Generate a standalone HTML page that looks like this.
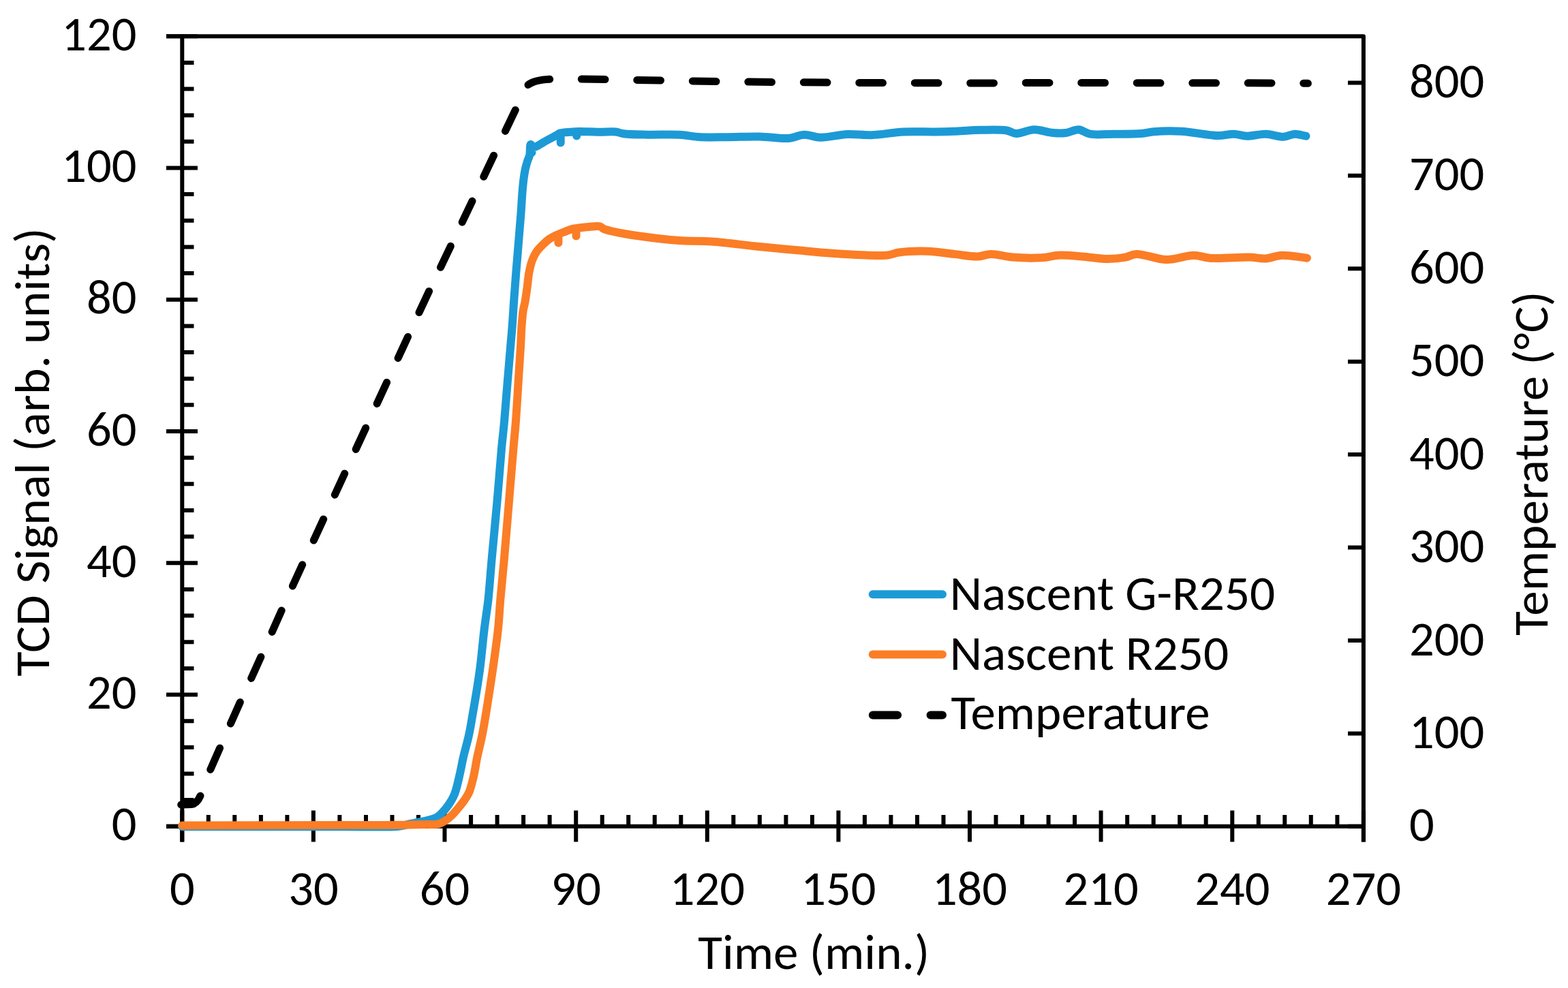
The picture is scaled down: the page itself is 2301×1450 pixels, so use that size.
<!DOCTYPE html>
<html><head><meta charset="utf-8"><title>TCD Signal vs Time</title>
<style>html,body{margin:0;padding:0;background:#fff;width:2301px;height:1450px;overflow:hidden}svg{display:block}</style>
</head><body>
<svg width="2301" height="1450" viewBox="0 0 2301 1450">
<rect width="2301" height="1450" fill="#fff"/>
<g stroke="#000" stroke-width="6" fill="none" stroke-linecap="butt">
<path d="M244,53.2H2000.9V1235.5" stroke-linejoin="round"/>
<path d="M267.3,50.2V1235.5"/>
<path d="M244,1212.8H2000.9"/>
<path d="M244,1212.8H290M244,1019.5H290M244,826.3H290M244,633H290M244,439.7H290M244,246.5H290M244,53.2H290M267.3,1174.1H284.5M267.3,1135.5H284.5M267.3,1096.8H284.5M267.3,1058.2H284.5M267.3,980.9H284.5M267.3,942.2H284.5M267.3,903.6H284.5M267.3,864.9H284.5M267.3,787.6H284.5M267.3,749H284.5M267.3,710.3H284.5M267.3,671.7H284.5M267.3,594.3H284.5M267.3,555.7H284.5M267.3,517H284.5M267.3,478.4H284.5M267.3,401.1H284.5M267.3,362.4H284.5M267.3,323.8H284.5M267.3,285.1H284.5M267.3,207.8H284.5M267.3,169.2H284.5M267.3,130.5H284.5M267.3,91.9H284.5M267.3,1189.5V1235.5M459.9,1189.5V1235.5M652.5,1189.5V1235.5M845.2,1189.5V1235.5M1037.8,1189.5V1235.5M1230.4,1189.5V1235.5M1423,1189.5V1235.5M1615.6,1189.5V1235.5M1808.3,1189.5V1235.5M2000.9,1189.5V1235.5M305.8,1196V1212.8M344.3,1196V1212.8M382.9,1196V1212.8M421.4,1196V1212.8M498.4,1196V1212.8M537,1196V1212.8M575.5,1196V1212.8M614,1196V1212.8M691.1,1196V1212.8M729.6,1196V1212.8M768.1,1196V1212.8M806.6,1196V1212.8M883.7,1196V1212.8M922.2,1196V1212.8M960.7,1196V1212.8M999.3,1196V1212.8M1076.3,1196V1212.8M1114.8,1196V1212.8M1153.4,1196V1212.8M1191.9,1196V1212.8M1268.9,1196V1212.8M1307.4,1196V1212.8M1346,1196V1212.8M1384.5,1196V1212.8M1461.5,1196V1212.8M1500.1,1196V1212.8M1538.6,1196V1212.8M1577.1,1196V1212.8M1654.2,1196V1212.8M1692.7,1196V1212.8M1731.2,1196V1212.8M1769.7,1196V1212.8M1846.8,1196V1212.8M1885.3,1196V1212.8M1923.8,1196V1212.8M1962.4,1196V1212.8M1978,1212.8H2000.9M1978,1076.4H2000.9M1978,940H2000.9M1978,803.5H2000.9M1978,667.1H2000.9M1978,530.7H2000.9M1978,394.3H2000.9M1978,257.8H2000.9M1978,121.4H2000.9"/>
</g>
<g font-family="Carlito, &quot;Liberation Sans&quot;, sans-serif" font-size="72.5" fill="#000">
<text x="200.5" y="1233.4" text-anchor="end" textLength="36.75" lengthAdjust="spacingAndGlyphs">0</text>
<text x="200.5" y="1040.1" text-anchor="end" textLength="73.5" lengthAdjust="spacingAndGlyphs">20</text>
<text x="200.5" y="846.9" text-anchor="end" textLength="73.5" lengthAdjust="spacingAndGlyphs">40</text>
<text x="200.5" y="653.6" text-anchor="end" textLength="73.5" lengthAdjust="spacingAndGlyphs">60</text>
<text x="200.5" y="460.3" text-anchor="end" textLength="73.5" lengthAdjust="spacingAndGlyphs">80</text>
<text x="200.5" y="267.1" text-anchor="end" textLength="110.25" lengthAdjust="spacingAndGlyphs">100</text>
<text x="200.5" y="73.8" text-anchor="end" textLength="110.25" lengthAdjust="spacingAndGlyphs">120</text>
<text x="267.3" y="1327.8" text-anchor="middle" textLength="36.75" lengthAdjust="spacingAndGlyphs">0</text>
<text x="459.9" y="1327.8" text-anchor="middle" textLength="73.5" lengthAdjust="spacingAndGlyphs">30</text>
<text x="652.5" y="1327.8" text-anchor="middle" textLength="73.5" lengthAdjust="spacingAndGlyphs">60</text>
<text x="845.2" y="1327.8" text-anchor="middle" textLength="73.5" lengthAdjust="spacingAndGlyphs">90</text>
<text x="1037.8" y="1327.8" text-anchor="middle" textLength="110.25" lengthAdjust="spacingAndGlyphs">120</text>
<text x="1230.4" y="1327.8" text-anchor="middle" textLength="110.25" lengthAdjust="spacingAndGlyphs">150</text>
<text x="1423" y="1327.8" text-anchor="middle" textLength="110.25" lengthAdjust="spacingAndGlyphs">180</text>
<text x="1615.6" y="1327.8" text-anchor="middle" textLength="110.25" lengthAdjust="spacingAndGlyphs">210</text>
<text x="1808.3" y="1327.8" text-anchor="middle" textLength="110.25" lengthAdjust="spacingAndGlyphs">240</text>
<text x="2000.9" y="1327.8" text-anchor="middle" textLength="110.25" lengthAdjust="spacingAndGlyphs">270</text>
<text x="2068" y="1234.3" textLength="36.75" lengthAdjust="spacingAndGlyphs">0</text>
<text x="2068" y="1097.9" textLength="110.25" lengthAdjust="spacingAndGlyphs">100</text>
<text x="2068" y="961.5" textLength="110.25" lengthAdjust="spacingAndGlyphs">200</text>
<text x="2068" y="825" textLength="110.25" lengthAdjust="spacingAndGlyphs">300</text>
<text x="2068" y="688.6" textLength="110.25" lengthAdjust="spacingAndGlyphs">400</text>
<text x="2068" y="552.2" textLength="110.25" lengthAdjust="spacingAndGlyphs">500</text>
<text x="2068" y="415.8" textLength="110.25" lengthAdjust="spacingAndGlyphs">600</text>
<text x="2068" y="279.3" textLength="110.25" lengthAdjust="spacingAndGlyphs">700</text>
<text x="2068" y="142.9" textLength="110.25" lengthAdjust="spacingAndGlyphs">800</text>
<text x="1024.3" y="1422.1" textLength="339.8" lengthAdjust="spacingAndGlyphs">Time (min.)</text>
<text transform="translate(72.4,992.6) rotate(-90)" textLength="658.2" lengthAdjust="spacingAndGlyphs">TCD Signal (arb. units)</text>
<text transform="translate(2270.6,932.8) rotate(-90)" textLength="505.5" lengthAdjust="spacingAndGlyphs">Temperature (°C)</text>
<text x="1393.7" y="894.5" textLength="477.6" lengthAdjust="spacingAndGlyphs">Nascent G-R250</text>
<text x="1393.7" y="982.7" textLength="409.6" lengthAdjust="spacingAndGlyphs">Nascent R250</text>
<text x="1395.4" y="1070.3" textLength="380.2" lengthAdjust="spacingAndGlyphs">Temperature</text>
</g>
<g fill="none" stroke-width="12" stroke-linecap="round">
<path stroke="#1c9ad6" d="M1280.8,872.3H1383"/>
<path stroke="#fb7d26" d="M1280.8,960.5H1383"/>
<path stroke="#000" d="M1280.8,1049.5H1317.1M1365.6,1049.5H1383"/>
</g>
<g fill="none" stroke-width="12" stroke-linecap="round" stroke-linejoin="round">
<path stroke="#1c9ad6" d="M267.3,1213.2C344.9,1213.2 442,1213.3 500,1213.2C534.6,1213.2 569.3,1214.1 583,1213C587.5,1212.6 589.1,1212.1 592,1211.5C594.8,1210.9 597.1,1210.1 600,1209.4C603.6,1208.6 607.6,1207.9 612,1207C617.4,1205.9 624.8,1204.6 630,1203.2C634.2,1202.1 637.9,1201.3 641,1199.5C643.9,1197.9 645.8,1195.8 648.3,1193.3C651.4,1190.2 654.9,1186.1 657.9,1181.8C661.2,1177 664.4,1172 667,1165.5C670.4,1157.1 672.8,1144.4 675,1135C676.9,1126.9 677.8,1120.6 679.7,1112.3C682,1102.3 685.6,1090.3 688,1079.3C690.4,1068.3 692.1,1057.2 694,1046.2C695.9,1035.2 697.8,1024.1 699.6,1013.1C701.3,1002.1 702.9,992.4 704.5,980C706.6,964 708.4,942.4 710.5,925C712.4,909.2 714.7,896.1 716.5,880C718.5,861.5 719.7,841.8 721.7,820C724,793.9 727.3,761.6 729.7,733.9C732,708.2 734,680.3 735.9,659.4C737.3,644.2 738.6,634.5 739.9,620C741.5,602.1 743.2,579.1 744.8,560C746.2,542.7 747.7,525.2 749,510.3C750,498.1 751,488.2 751.8,477.2C752.6,466.1 753.2,455.8 754,444C755,430.4 756,417.1 757.3,400C759.2,376.1 762.8,335.3 764.4,314C765.3,301.4 765.7,292.9 766.4,283.8C767,276.2 767.6,269.5 768.4,263.1C769.1,257.5 770,252.3 771,247.6C771.9,243.5 773,239.7 774.1,236.2C775.1,233.2 776.4,231.2 777.2,227.9C778.2,223.5 777.3,212.5 778.8,212C779.7,211.7 780.6,215.7 782.5,216C786.3,216.7 796,209.4 802.1,206.2C807.6,203.4 814.2,199.9 817.6,197.9C819.4,196.9 819.6,196.2 821.5,195.5C825.7,194.1 836.2,193.7 843.4,193.3C850.4,192.9 857.7,193.2 864.1,193.3C869.7,193.4 874.2,193.7 880,193.8C887.1,193.9 897.1,192.8 903.5,193.5C908.1,194 910.2,195.6 915.2,196.3C923.7,197.5 937.8,197.5 950.4,197.7C964.9,198 983.7,196.9 997.3,197.7C1007.9,198.3 1015.1,200.4 1025.5,201C1038.1,201.8 1053.3,201.3 1067.7,201.2C1082.9,201.1 1099.5,200.2 1114.7,200.5C1129.2,200.8 1144.9,203.9 1156.9,202.9C1165.9,202.2 1172.5,197.9 1180.4,197.7C1188.2,197.5 1195,201.5 1203.9,201.7C1215.4,202 1230.9,197.5 1243.8,197C1255.9,196.5 1266.4,198.6 1279,198.2C1293.5,197.7 1310.2,194.3 1325.9,193.5C1341.5,192.7 1359.3,193.7 1372.8,193.5C1383.1,193.3 1390.1,193.1 1400,192.7C1412,192.2 1426.8,191 1439.9,190.8C1452.6,190.6 1468,189.9 1477.4,191.5C1483.3,192.5 1486.1,195.8 1491.5,196C1498.8,196.3 1508.5,190.5 1517.3,190.3C1526.5,190.1 1537,194.3 1545.5,195C1552.4,195.6 1558.1,195.8 1564.3,195C1570.6,194.2 1577,189.9 1583,190.3C1588.7,190.7 1592.8,195.5 1599.5,196.7C1608.9,198.5 1622.6,196.8 1634.7,196.7C1647.6,196.6 1663.8,196.9 1674.6,196C1682.1,195.4 1685.9,193.8 1693.4,193.2C1704.2,192.3 1719,192 1733.3,192.7C1749.9,193.6 1772.9,198.9 1787.2,199C1796.6,199.1 1803.3,196.5 1810.7,196.7C1817.3,196.9 1822.6,199.5 1829.5,199.7C1837.9,199.9 1848.4,196.5 1857.6,196.7C1866.4,196.9 1875.9,201 1883.5,200.7C1889.6,200.4 1894.4,196.9 1899.9,196.7C1905.4,196.5 1911,198.7 1916.5,199.7M780,214L780.5,224M822.7,197L822.7,209.5M846.2,194.5L846.2,199.5"/>
<path stroke="#fb7d26" d="M267.3,1211.5C364.9,1211.3 507.3,1211.3 560,1211C579.5,1210.9 588.3,1210.8 600,1210.6C609,1210.4 616.5,1210.1 624.1,1209.9C630.9,1209.7 638.3,1210.6 643.5,1209.3C647.4,1208.3 650,1206.5 653.1,1204.5C656.4,1202.4 659.7,1199.7 662.8,1196.8C666.2,1193.6 669.3,1189.8 672.4,1186C675.7,1182 679.3,1177.6 682.1,1173.5C684.6,1169.8 686.6,1166.9 688.5,1162.5C691,1156.6 692.9,1148.3 694.8,1140.5C696.9,1131.7 698.1,1122.1 700.1,1112.3C702.3,1101.7 705.3,1090.3 707.5,1079.3C709.7,1068.3 711.5,1057.2 713.3,1046.2C715.1,1035.2 716.8,1024.1 718.5,1013.1C720.2,1002.1 721.7,992.5 723.5,980C725.8,963.5 729.2,940.4 731,922.7C732.6,907.4 733,895.4 734.3,880C735.9,861.7 738,841.8 739.9,820C742.2,793.9 744.8,761.6 747.1,733.9C749.2,708.2 751.5,680.3 753.3,659.4C754.6,644.2 755.7,634.5 756.8,620C758.2,602.1 759.5,579.1 760.7,560C761.8,542.7 763,525.2 763.9,510.3C764.6,498.2 764.9,487.1 765.6,477.2C766.2,469.1 766.8,461.1 767.8,455C768.5,450.7 769.5,448.3 770.3,444C771.4,437.9 772.6,429.3 773.6,422C774.6,414.7 775.1,406.9 776.4,400C777.6,393.7 779,387.3 781,382C782.7,377.4 784.7,373.4 787.2,369.6C789.7,365.9 792.8,362.8 795.9,359.7C799,356.6 802.3,353.5 805.8,351C809.3,348.5 813.1,346.7 817,344.8C821,342.9 825.5,341.3 829.4,339.8C832.9,338.4 835.8,337 839.3,336.1C843.2,335.1 847.6,334.7 851.7,334.2C855.8,333.7 859.7,333.3 864.1,333C869.1,332.6 876.3,331.3 880.3,332.3C883,333 883.9,335 886.5,336.1C890.1,337.6 894.3,338.5 900,339.8C909.5,341.9 924.4,344.5 938.7,346.5C956.2,349 978.8,351.7 997.3,353C1013.8,354.2 1027.1,353.3 1044.3,354.5C1065.4,356 1092.3,359.8 1114.7,362C1135.1,364 1153.8,365.7 1173.4,367.5C1192.9,369.2 1211.6,371.3 1232,372.5C1254.4,373.8 1287.2,376.1 1302.4,374.5C1309.9,373.7 1312.1,371.5 1318.9,370.5C1329.7,369 1347.3,368.3 1361.1,368.7C1374.3,369.1 1387.4,371.6 1400,372.9C1412,374.1 1425.3,376.8 1435.2,376.4C1442.5,376.1 1446.9,373 1454,372.9C1463.4,372.7 1475,376.7 1486.8,377.6C1500.5,378.6 1519.3,378.9 1531.4,378C1539.8,377.4 1544.5,375.1 1552.5,374.7C1562.7,374.2 1576,375.5 1587.7,376.4C1599.5,377.3 1611.9,379.8 1623,379.9C1632.9,380 1643,379.1 1651.1,377.6C1657.4,376.5 1660.6,373.2 1667.5,372.9C1678.7,372.4 1697.6,380.9 1712.1,381.1C1725.8,381.3 1740.5,374.6 1752,374.7C1760.9,374.7 1765.9,378 1775.5,378.7C1790.6,379.8 1819.1,377.2 1834.2,377.6C1843.8,377.9 1849.8,379.9 1857.6,379.4C1865.5,378.9 1872.4,375.1 1881.1,374.7C1892,374.2 1905.7,377.4 1918,378.7M819.4,345L819.4,356.5M845.5,335L845.5,346.5"/>
</g>
<path fill="none" stroke="#000" stroke-width="11" stroke-linecap="round" stroke-linejoin="round" d="M265.7,1181L281,1180.5Q289,1179.5 294,1168M308.8,1129.4L322.6,1097.9M338.4,1062L352.4,1030.6M368.7,995.4L382.9,964.1M399.2,927.4L413.2,896M429.4,860L443.7,828.8M460.3,793.1L474.7,761.9M491.3,726.2L505.7,695M522.2,659.4L536.7,628.1M553.2,592.4L567.6,561.2M584.1,525.5L598.6,494.3M615,458.6L629.6,427.4M646.5,392.3L661.3,361.3M678.2,326.1L693,295.1M709.8,259.3L724.6,228.2M741.5,192.4L756.3,161.4M775,124.5Q784,117.5 806.7,116.3M853.3,116.1L888,116.5M934.8,117.4L969.5,118.1M1016.3,118.9L1051,119.5M1097.8,120.1L1132.5,120.5M1179.3,120.8L1214,121M1260.8,121.4L1295.5,121.6M1342.3,121.7L1377,121.8M1423.8,122L1458.5,121.9M1505.3,121.5L1540,121.4M1586.8,121.4L1621.5,121.5M1668.3,121.7L1703,121.8M1749.8,121.8L1784.5,121.8M1831.3,121.8L1866,121.9M1912.8,122.2L1919.4,122.3"/>
</svg>
</body></html>
